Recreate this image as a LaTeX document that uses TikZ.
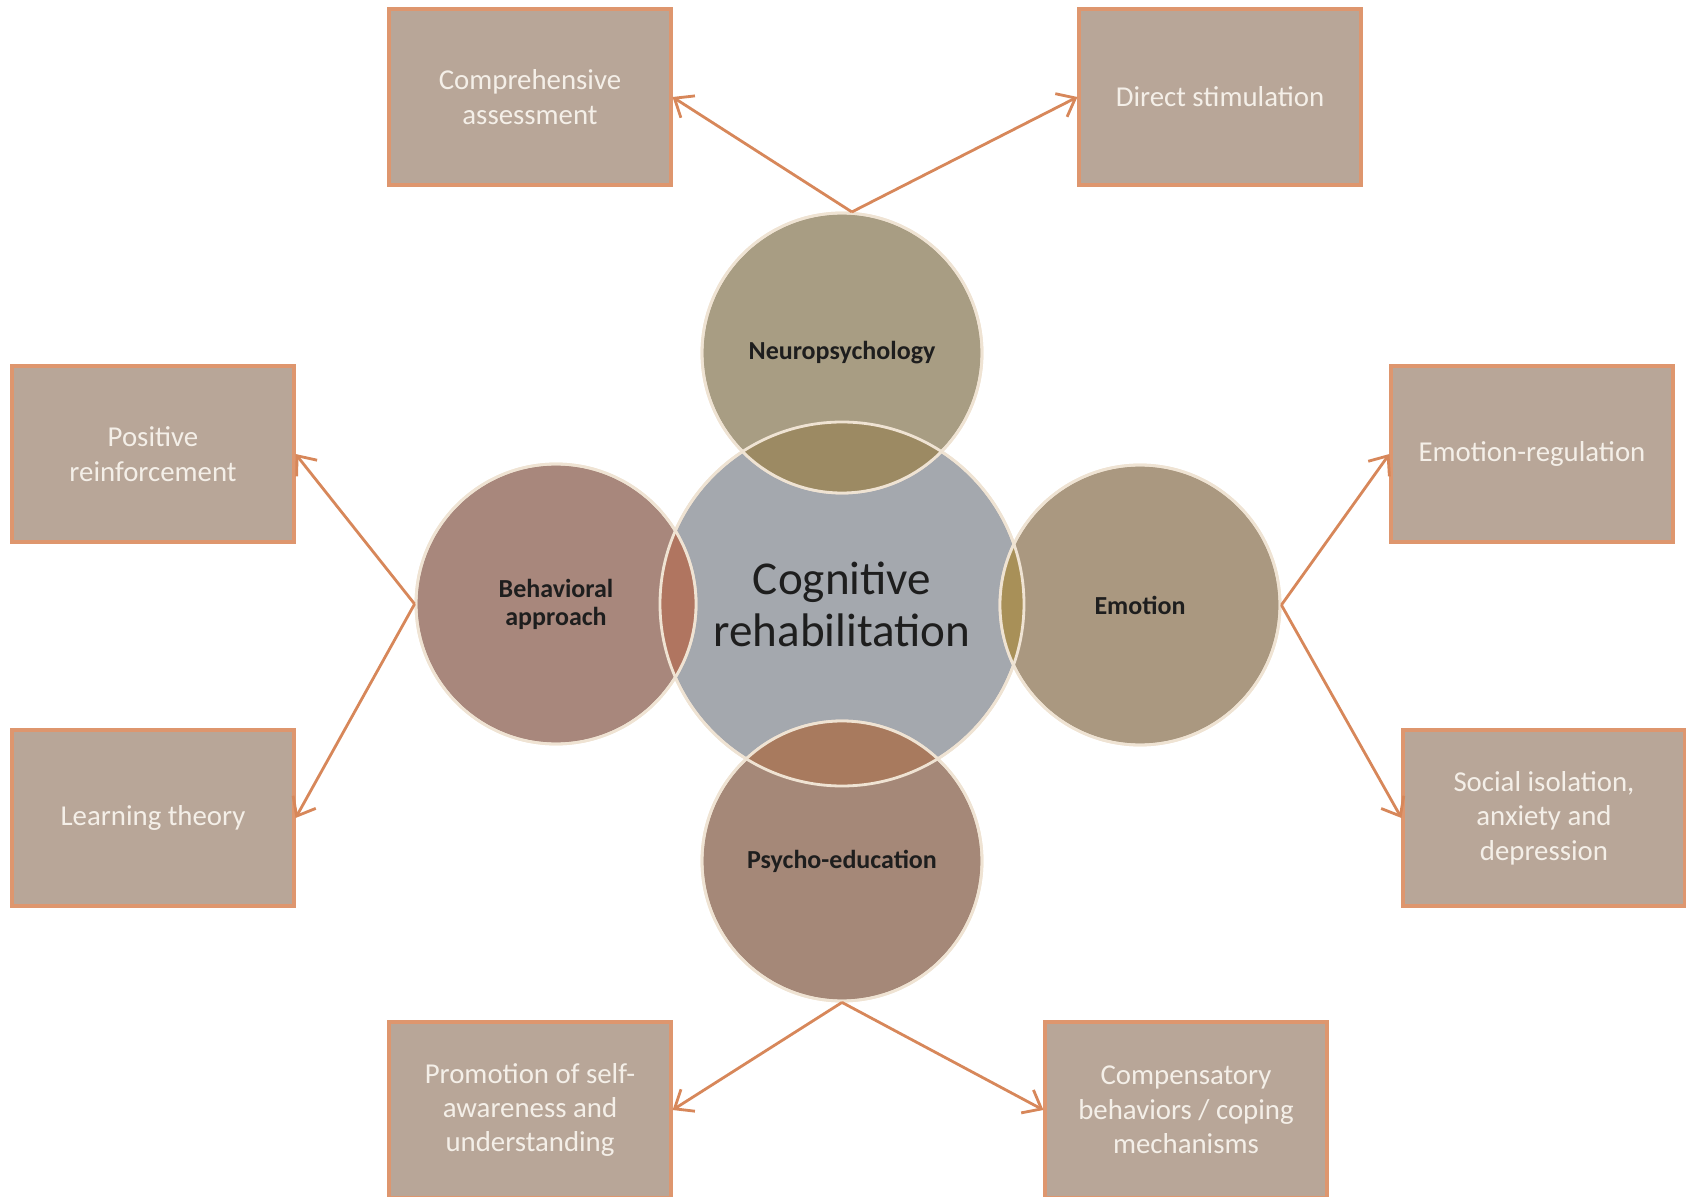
\documentclass[tikz,border=0pt]{standalone}
\usepackage{fontspec}
\setmainfont{Carlito}
\usepackage{xcolor}
\usetikzlibrary{arrows.meta,positioning,calc}

\definecolor{boxfill}{HTML}{B8A698}
\definecolor{boxedge}{HTML}{DE966E}
\definecolor{boxtext}{HTML}{F4EFE8}
\definecolor{arrowc}{HTML}{D7875A}
\definecolor{rim}{HTML}{EFE3D3}
\definecolor{ink}{HTML}{1E1E1E}
\definecolor{corefill}{HTML}{A4A8AE}
\definecolor{neurofill}{HTML}{A89D83}
\definecolor{behavfill}{HTML}{A8877C}
\definecolor{emotfill}{HTML}{AA9880}
\definecolor{psychfill}{HTML}{A58878}
\definecolor{neurolens}{HTML}{9C8A63}
\definecolor{behavlens}{HTML}{B07560}
\definecolor{emotlens}{HTML}{A89058}
\definecolor{psychlens}{HTML}{A87A5E}

\begin{document}
\begin{tikzpicture}[x=0.1mm, y=-0.1mm,
    topic/.style={rectangle, draw=boxedge, fill=boxfill, line width=0.9pt, minimum width=28.2mm, minimum height=17.6mm, align=center, text=boxtext, font=\fontsize{8.2}{9.8}\selectfont},
    bubble/.style={circle, fill=#1, draw=rim, line width=0.8pt, minimum size=28mm, inner sep=0pt, align=center, text=ink, font=\fontsize{7.4}{8}\selectfont\bfseries},
    arr/.style={->, >={Straight Barb[length=1.6mm, width=2.6mm]}, line width=0.8pt, color=arrowc}
]
\useasboundingbox (0,0) rectangle (1686,1197);

% Outer boxes
\node[topic] (comp) at (530,97) {Comprehensive\\assessment};
\node[topic] (direct) at (1220,97) {Direct stimulation};
\node[topic] (posit) at (153,454) {Positive\\reinforcement};
\node[topic] (learn) at (153,818) {Learning theory};
\node[topic] (emoreg) at (1532,454) {Emotion-regulation};
\node[topic] (social) at (1544,818) {Social isolation,\\anxiety and\\depression};
\node[topic] (promo) at (530,1110) {Promotion of self-\\awareness and\\understanding};
\node[topic] (compens) at (1186,1110) {Compensatory\\behaviors / coping\\mechanisms};

% Circles
\node[bubble=corefill, minimum size=36.4mm, font=\fontsize{13.4}{14.8}\selectfont] (core) at (842,604) {Cognitive\\rehabilitation};
\node[bubble=neurofill] (neuro) at (842,353) {Neuropsychology};
\node[bubble=behavfill] (behav) at (556,604) {Behavioral\\approach};
\node[bubble=emotfill] (emot) at (1140,605) {Emotion};
\node[bubble=psychfill] (psych) at (842,861) {Psycho-education};

% Overlaps
\foreach \n/\c in {neuro/neurolens, behav/behavlens, emot/emotlens, psych/psychlens}{
  \begin{scope}
    \clip (core.center) circle[radius=18.2mm];
    \fill[fill=\c] (\n.center) circle[radius=14mm];
  \end{scope}
}
\foreach \n/\r in {core/18.2mm, neuro/14mm, behav/14mm, emot/14mm, psych/14mm}
  \draw[rim, line width=0.8pt] (\n.center) circle[radius=\r];

% Arrows
\draw[arr] (neuro.86) -- (comp.east);
\draw[arr] (neuro.86) -- (direct.west);
\draw[arr] (behav.west) -- (posit.east);
\draw[arr] (behav.west) -- (learn.east);
\draw[arr] (emot.east) -- (emoreg.west);
\draw[arr] (emot.east) -- (social.west);
\draw[arr] (psych.south) -- (promo.east);
\draw[arr] (psych.south) -- (compens.west);
\end{tikzpicture}
\end{document}
